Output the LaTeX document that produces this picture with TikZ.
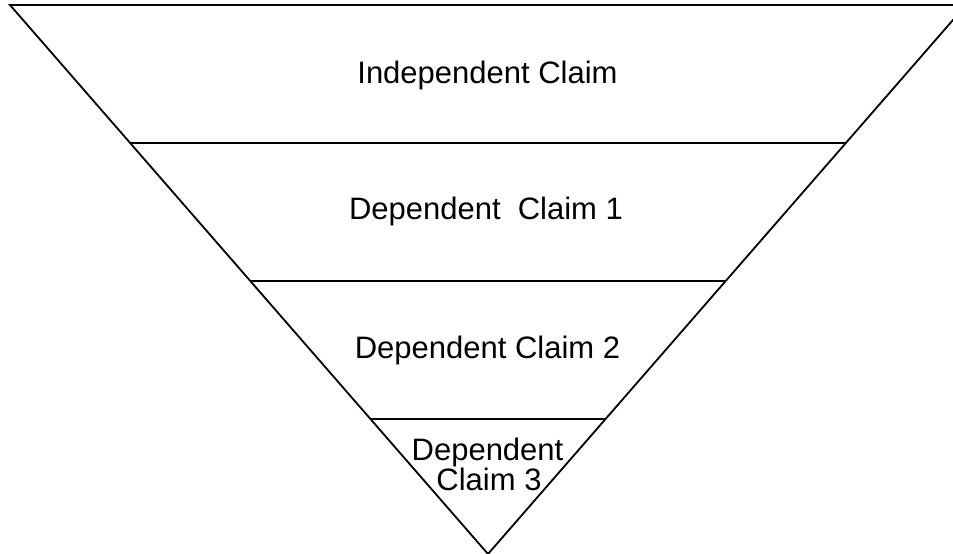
\documentclass[tikz,border=0pt]{standalone}
\usepackage{fontspec}
\setmainfont{Liberation Sans}
\begin{document}
\begin{tikzpicture}[x=1pt,y=-1pt,
  edge/.style={draw=black,line width=1.8pt,line join=miter},
  label/.style={font=\fontsize{31}{32}\selectfont,anchor=base,inner sep=0pt,text=black}]
\useasboundingbox (0,0) rectangle (953,554);
\clip (0,0) rectangle (953,554);
% triangle corners
\coordinate (tl) at (10,5);
\coordinate (tr) at (966,5);
\coordinate (apex) at (488,554);
% divider end points
\coordinate (l1) at (130,143);
\coordinate (r1) at (846,143);
\coordinate (l2) at (250,281);
\coordinate (r2) at (726,281);
\coordinate (l3) at (370.5,419);
\coordinate (r3) at (605.5,419);
\draw[edge] (tl) -- (tr) -- (apex) -- cycle;
\draw[edge] (l1) -- (r1);
\draw[edge] (l2) -- (r2);
\draw[edge] (l3) -- (r3);
\node[label] (t0) at (487.5,83) {Independent Claim};
\node[label] (t1) at (486,219) {Dependent\ \ Claim 1};
\node[label] (t2) at (487.5,358) {Dependent Claim 2};
\node[label] (t3a) at (487.5,460) {Dependent};
\node[label] (t3b) at (489,490) {Claim 3};
\end{tikzpicture}
\end{document}
